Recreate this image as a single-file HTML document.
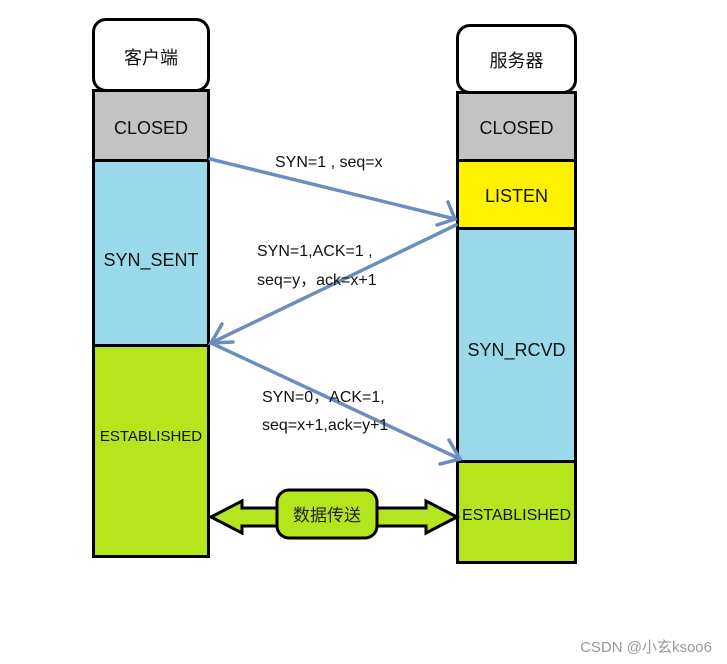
<!DOCTYPE html>
<html><head><meta charset="utf-8"><style>
body{margin:0;background:#fff;width:727px;height:664px;position:relative;overflow:hidden;font-family:"Liberation Sans","Noto Sans CJK SC",sans-serif}
.b{position:absolute;box-sizing:border-box;border:3px solid #000;display:flex;align-items:center;justify-content:center;font-size:18px;color:#111}
</style></head><body>
<div class="b" style="left:92px;top:18px;width:118px;height:74px;border-radius:14px;background:#fff;padding-top:4px">客户端</div>
<div class="b" style="left:92px;top:89px;width:118px;height:73px;background:#c3c3c3;padding-top:6px">CLOSED</div>
<div class="b" style="left:92px;top:159px;width:118px;height:188px;background:#99d9ea;padding-top:14px">SYN_SENT</div>
<div class="b" style="left:92px;top:344px;width:118px;height:214px;background:#b5e61d;font-size:15px;padding-bottom:30px">ESTABLISHED</div>

<div class="b" style="left:456px;top:24px;width:121px;height:70px;border-radius:14px;background:#fff;padding-top:2px">服务器</div>
<div class="b" style="left:456px;top:91px;width:121px;height:71px;background:#c3c3c3;padding-top:4px">CLOSED</div>
<div class="b" style="left:456px;top:159px;width:121px;height:71px;background:#fff200;padding-top:4px">LISTEN</div>
<div class="b" style="left:456px;top:227px;width:121px;height:236px;background:#99d9ea;padding-top:10px">SYN_RCVD</div>
<div class="b" style="left:456px;top:460px;width:121px;height:104px;background:#b5e61d;font-size:16px;padding-top:8px">ESTABLISHED</div>

<svg width="727" height="664" style="position:absolute;left:0;top:0">
<g stroke="#6c8ebf" stroke-width="3.5" fill="none" stroke-linecap="round">
<line x1="210" y1="159" x2="455" y2="219"/>
<polyline points="448,202 455,219 437,225"/>
<line x1="456" y1="225" x2="211" y2="343"/>
<polyline points="222,324 211,343 233,342"/>
<line x1="211" y1="343" x2="460" y2="459"/>
<polyline points="449,440 460,459 440,464"/>
</g>
<polygon points="211,517 242,501 242,508 280,508 280,526 242,526 242,533" fill="#b5e61d" stroke="#000" stroke-width="3"/>
<polygon points="457,517 426,501 426,508 375,508 375,526 426,526 426,533" fill="#b5e61d" stroke="#000" stroke-width="3"/>
<rect x="277" y="490" width="100" height="48" rx="12" fill="#b5e61d" stroke="#000" stroke-width="3"/>
<text x="327" y="521" text-anchor="middle" font-size="17" fill="#222" font-family="Liberation Sans,Noto Sans CJK SC,sans-serif">数据传送</text>
<g font-size="16" fill="#111" font-family="Liberation Sans,Noto Sans CJK SC,sans-serif">
<text x="275" y="167">SYN=1 , seq=x</text>
<text x="257" y="256">SYN=1,ACK=1 ,</text>
<text x="257" y="285">seq=y，ack=x+1</text>
<text x="262" y="402">SYN=0，ACK=1,</text>
<text x="262" y="430">seq=x+1,ack=y+1</text>
</g>
<text x="712" y="652" text-anchor="end" font-size="15" fill="#999" font-family="Liberation Sans,Noto Sans CJK SC,sans-serif">CSDN @小玄ksoo6</text>
</svg>
</body></html>
